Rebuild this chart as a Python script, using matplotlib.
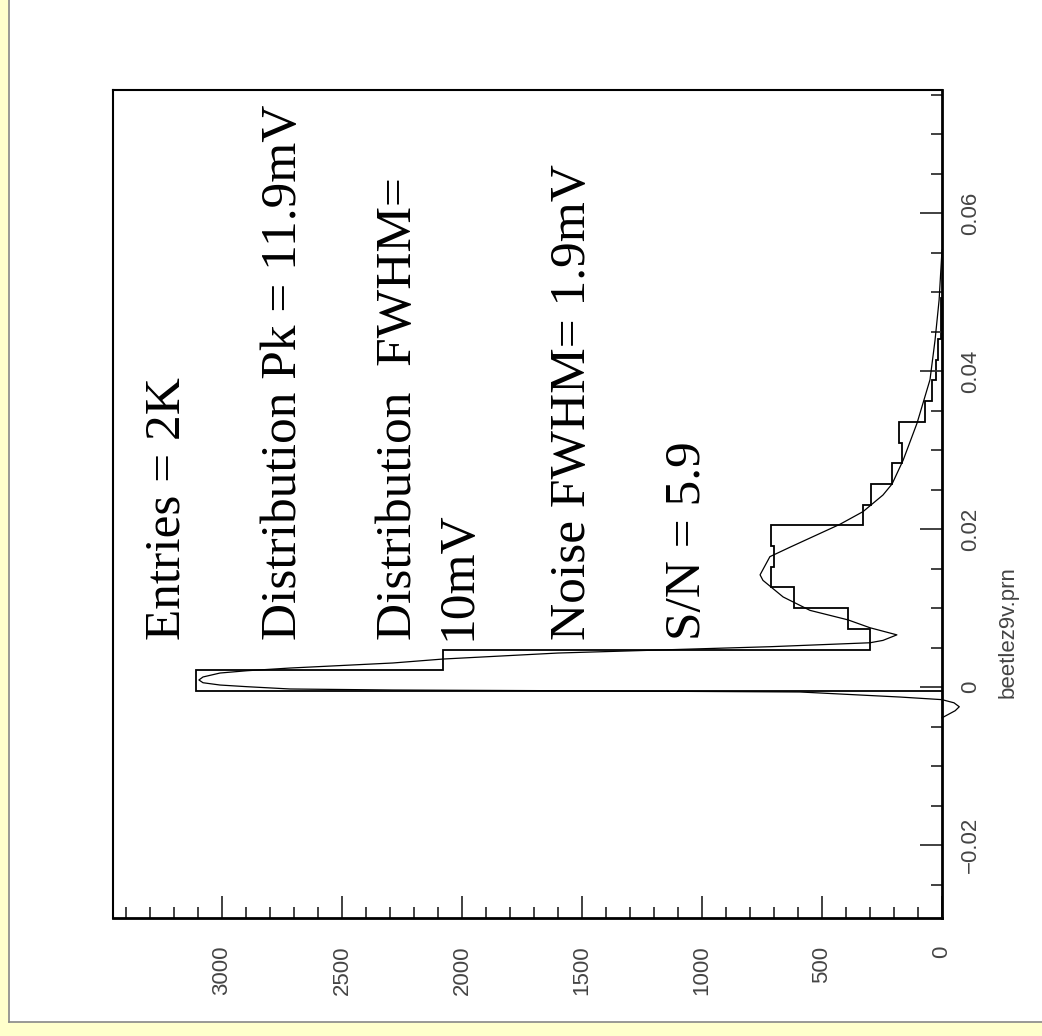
import numpy as np
import matplotlib
matplotlib.use("Agg")
import matplotlib.pyplot as plt
from matplotlib.patches import Rectangle
from matplotlib.lines import Line2D
from matplotlib.ticker import MultipleLocator, FixedLocator, FixedFormatter

# histogram of pulse heights (volts) - bin edges and entries
bin_edges = [-0.0005, 0.0021, 0.0047, 0.0074, 0.0100, 0.0126, 0.0152, 0.0178,
             0.0205, 0.0231, 0.0257, 0.0283, 0.0309, 0.0336, 0.0362, 0.0388,
             0.0414, 0.0440, 0.0466, 0.0493]
bin_counts = [3110, 2080, 300, 392, 617, 712, 700, 712,
              329, 296, 208, 167, 179, 71, 42, 25,
              17, 5, 4]

# fitted curve
fit_v = [-0.0039, -0.0030, -0.0025, -0.0020, -0.0016, -0.00127, -0.00063,
         -0.00047, -0.00038, -0.00025, 0.00004, 0.00025, 0.00054, 0.00089,
         0.00127, 0.00177, 0.00206, 0.0024, 0.00304, 0.00354, 0.0043,
         0.0051, 0.0056, 0.0059, 0.0066, 0.0075, 0.0085, 0.0097, 0.0114,
         0.0135, 0.0142, 0.0165, 0.0177, 0.0206, 0.0222, 0.0243, 0.0257,
         0.0287, 0.0334, 0.0389, 0.0439, 0.0490, 0.0553]
fit_c = [0, -55, -72, -50, 0, 175, 592,
         1592, 2288, 2717, 2896, 3008, 3079, 3096,
         3079, 3008, 2896, 2717, 2288, 2079, 1600,
         717, 300, 246, 188, 300, 392, 550, 662,
         746, 758, 717, 633, 425, 329, 246, 208,
         162, 104, 50, 29, 12, 0]

v_ticks = [-0.02, 0, 0.02, 0.04, 0.06]
v_labels = ['\u22120.02', '0', '0.02', '0.04', '0.06']
c_ticks = [0, 500, 1000, 1500, 2000, 2500, 3000]
c_labels = ['0', '500', '1000', '1500', '2000', '2500', '3000']

notes = ["Entries = 2K", "Distribution Pk = 11.9mV", "Distribution  FWHM=",
         "10mV", "Noise FWHM= 1.9mV", "S/N = 5.9"]
note_x = [179, 296, 411, 470, 585, 700]   # baseline position, pixels

W, H = 1042, 1036
fig = plt.figure(figsize=(W / 100, H / 100), dpi=100)
fig.patch.set_facecolor('white')

# yellow page edges
fig.patches.append(Rectangle((0, 0), 8 / W, 1, transform=fig.transFigure,
                             color='#FFFFCC', zorder=0))
fig.patches.append(Rectangle((0, 0), 1, 14 / H, transform=fig.transFigure,
                             color='#FFFFCC', zorder=0))
fig.lines.append(Line2D([8.5 / W, 8.5 / W], [14.5 / H, 1], transform=fig.transFigure,
                        color='#888888', lw=1.2))
fig.lines.append(Line2D([8.5 / W, 1], [14.5 / H, 14.5 / H], transform=fig.transFigure,
                        color='#888888', lw=1.2))

ax = fig.add_axes([113 / W, 1 - 918 / H, (942 - 113) / W, (918 - 90) / H])
ax.stairs(bin_counts, bin_edges, orientation='horizontal', baseline=0,
          color='black', lw=1.3)
ax.plot(fit_c, fit_v, color='black', lw=0.9, clip_on=False)

ax.set_xlim(3454, 0)
ax.set_ylim(-0.02924, 0.07557)

for s in ['top', 'left']:
    ax.spines[s].set_linewidth(1.5)
for s in ['right', 'bottom']:
    ax.spines[s].set_linewidth(2.0)

ax.yaxis.tick_right()
ax.yaxis.set_major_locator(FixedLocator(v_ticks))
ax.yaxis.set_major_formatter(FixedFormatter(v_labels))
ax.yaxis.set_minor_locator(MultipleLocator(0.005))
ax.xaxis.set_major_locator(FixedLocator(c_ticks))
ax.xaxis.set_major_formatter(FixedFormatter(c_labels))
ax.xaxis.set_minor_locator(MultipleLocator(100))

ax.tick_params(which='both', direction='in', color='#333333', width=1.3)
ax.tick_params(which='major', length=16)
ax.tick_params(which='minor', length=8)
ax.tick_params(axis='y', which='both', left=False, right=True, pad=13)
ax.tick_params(axis='x', which='both', top=False, bottom=True, pad=20)

for lab in ax.get_yticklabels():
    lab.set_rotation(90)
    lab.set_family('Liberation Sans')
    lab.set_fontsize(16)
    lab.set_color('#444444')
    lab.set_va('center')
for lab in ax.get_xticklabels():
    lab.set_rotation(90)
    lab.set_family('Liberation Sans')
    lab.set_fontsize(16)
    lab.set_color('#444444')
    lab.set_va('top')

fig.text(1008 / W, 1 - 632 / H, "beetlez9v.prn", rotation=90, ha='center',
         va='center', family='Liberation Sans', fontsize=16, color='#444444')

for txt, xb in zip(notes, note_x):
    fig.text(xb / W, 1 - 640 / H, txt, rotation=90, rotation_mode='anchor',
             ha='left', va='baseline', family='Liberation Serif',
             fontsize=37, color='black')

fig.savefig('out.png', dpi=100)
